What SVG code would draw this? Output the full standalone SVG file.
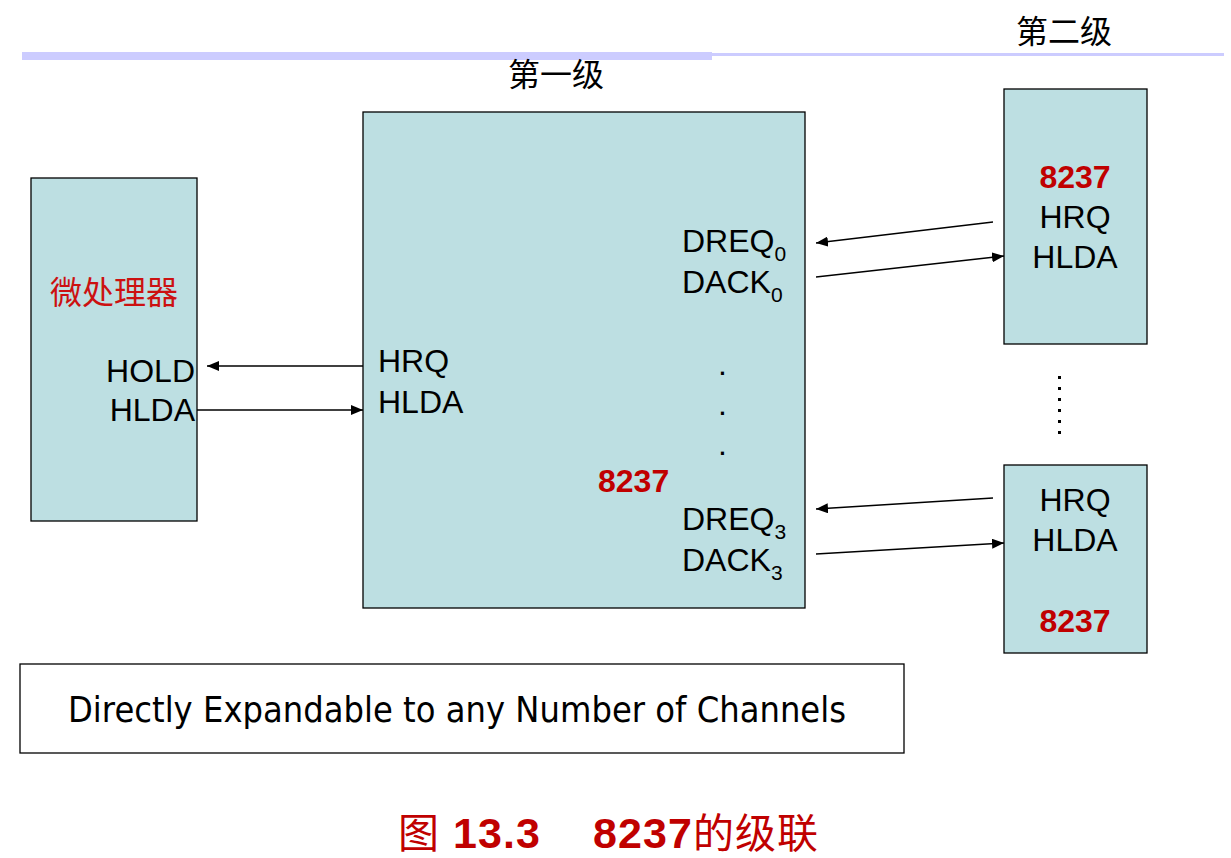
<svg xmlns="http://www.w3.org/2000/svg" width="1231" height="858" viewBox="0 0 1231 858">
<defs>
<style>
.box{fill:#bddfe2;stroke:#000;stroke-width:1.3}
.t{font-family:"Liberation Sans",Arial,sans-serif;font-size:32px;fill:#000}
.r{font-family:"Liberation Sans",Arial,sans-serif;font-size:32px;font-weight:bold;fill:#c00000}
.cjk{font-family:"Noto Sans CJK SC",sans-serif;font-size:32px;fill:#000}
.sub{font-size:21px}
.ln{stroke:#000;stroke-width:1.3;fill:none;marker-end:url(#ah)}
</style>
<marker id="ah" viewBox="0 0 12 10" refX="12" refY="5" markerWidth="12" markerHeight="10" markerUnits="userSpaceOnUse" orient="auto">
<path d="M0,0 L12,5 L0,10 Z" fill="#000"/>
</marker>
</defs>
<rect x="0" y="0" width="1231" height="858" fill="#fff"/>
<g id="header">
<rect x="22" y="52" width="690" height="8" fill="#ccccff"/>
<rect x="712" y="53" width="512" height="3" fill="#ccccff"/>
<text class="cjk" x="1064" y="43" text-anchor="middle">第二级</text>
<text class="cjk" x="556" y="86" text-anchor="middle">第一级</text>
</g>
<g id="cpu">
<rect class="box" x="31" y="178" width="166" height="343"/>
<text x="114" y="304" text-anchor="middle" font-family="Noto Sans CJK SC,sans-serif" font-size="32" fill="#cc1111">微处理器</text>
<text class="t" x="195" y="382" text-anchor="end">HOLD</text>
<text class="t" x="195" y="421" text-anchor="end">HLDA</text>
</g>
<g id="main8237">
<rect class="box" x="363" y="112" width="442" height="496"/>
<text class="t" x="378" y="372">HRQ</text>
<text class="t" x="378" y="413">HLDA</text>
<text class="t" x="682" y="252">DREQ<tspan class="sub" dy="9">0</tspan></text>
<text class="t" x="682" y="293">DACK<tspan class="sub" dy="9">0</tspan></text>
<text class="t" x="718" y="375">.</text>
<text class="t" x="718" y="415">.</text>
<text class="t" x="718" y="455">.</text>
<text class="r" x="598" y="492">8237</text>
<text class="t" x="682" y="530">DREQ<tspan class="sub" dy="9">3</tspan></text>
<text class="t" x="682" y="571">DACK<tspan class="sub" dy="9">3</tspan></text>
</g>
<g id="slave0">
<rect class="box" x="1004" y="89" width="143" height="255"/>
<text class="r" x="1075" y="188" text-anchor="middle">8237</text>
<text class="t" x="1075" y="228" text-anchor="middle">HRQ</text>
<text class="t" x="1075" y="268" text-anchor="middle">HLDA</text>
</g>
<g id="ellipsis">
<g fill="#000">
<rect x="1058" y="376" width="3" height="3"/>
<rect x="1058" y="387" width="3" height="3"/>
<rect x="1058" y="398" width="3" height="3"/>
<rect x="1058" y="409" width="3" height="3"/>
<rect x="1058" y="420" width="3" height="3"/>
<rect x="1058" y="431" width="3" height="3"/>
</g>
</g>
<g id="slave3">
<rect class="box" x="1004" y="465" width="143" height="188"/>
<text class="t" x="1075" y="511" text-anchor="middle">HRQ</text>
<text class="t" x="1075" y="551" text-anchor="middle">HLDA</text>
<text class="r" x="1075" y="632" text-anchor="middle">8237</text>
</g>
<g id="note">
<rect x="20" y="664" width="884" height="89" fill="#fff" stroke="#000" stroke-width="1.3"/>
<text x="68" y="722" font-family="DejaVu Sans,Verdana,sans-serif" font-size="35" fill="#000" textLength="778" lengthAdjust="spacingAndGlyphs">Directly Expandable to any Number of Channels</text>
</g>
<g id="caption">
<text x="398" y="848" fill="#c00000" font-size="43" textLength="420" lengthAdjust="spacing"><tspan font-family="Noto Sans CJK SC,sans-serif" font-size="41">图</tspan><tspan font-family="Liberation Sans,Arial,sans-serif" font-weight="bold" xml:space="preserve"> 13.3    8237</tspan><tspan font-family="Noto Sans CJK SC,sans-serif" font-size="41">的级联</tspan></text>
</g>
<g id="connectors">
<line class="ln" x1="363" y1="366" x2="207" y2="366"/>
<line class="ln" x1="197" y1="410" x2="363" y2="410"/>
<line class="ln" x1="993" y1="222" x2="816" y2="243"/>
<line class="ln" x1="816" y1="277" x2="1004" y2="256"/>
<line class="ln" x1="993" y1="498" x2="816" y2="509"/>
<line class="ln" x1="816" y1="554" x2="1004" y2="543"/>
</g>
</svg>
